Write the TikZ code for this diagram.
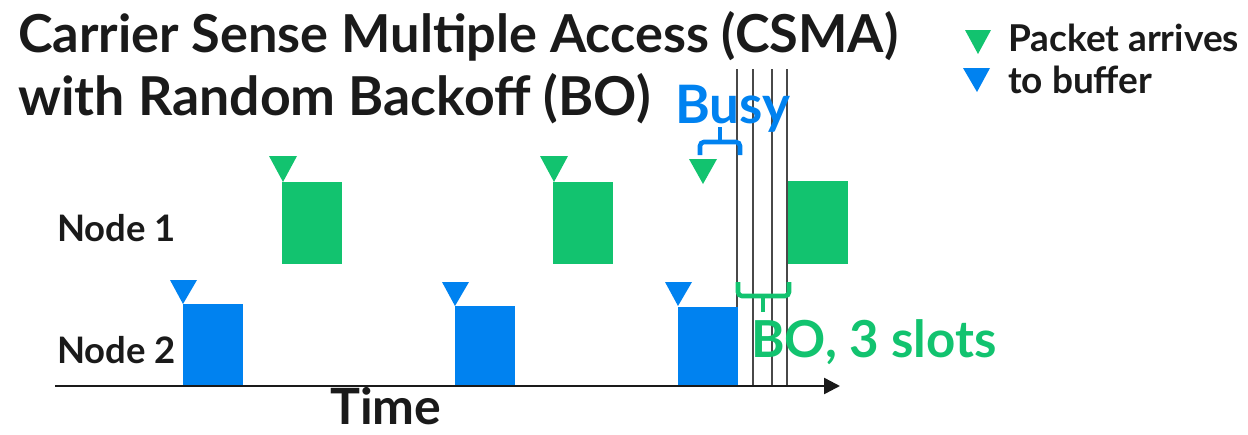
\documentclass[tikz,border=0pt]{standalone}
\usepackage{fontspec}
\setmainfont{Lato}
\usetikzlibrary{arrows.meta}
\definecolor{egreen}{HTML}{12C36F}
\definecolor{eblue}{HTML}{0082F0}
\definecolor{etext}{HTML}{1A1A1A}
\tikzset{
  gbox/.style={fill=egreen,draw=none,minimum width=60pt,minimum height=82pt,inner sep=0pt,anchor=north west},
  bbox/.style={fill=eblue,draw=none,minimum width=60pt,minimum height=80pt,inner sep=0pt,anchor=north west},
  lbl/.style={inner sep=0pt,anchor=base west,text=etext},
  slot/.style={draw=etext!80,line width=1.3pt},
  brace/.style={line width=4.6pt,rounded corners=4pt,line cap=butt}
}
\begin{document}
\begin{tikzpicture}[x=1pt,y=-1pt]
\useasboundingbox (0,0) rectangle (1248,434);
% title
\node[lbl,font=\fontsize{52.3}{58}\selectfont\bfseries] (t1) at (18,52) {Carrier Sense Multiple Access (CSMA)};
\node[lbl,font=\fontsize{53.6}{58}\selectfont\bfseries] (t2) at (18,115) {with Random Backoff (BO)};
% legend
\fill[egreen] (965,30) -- (991,30) -- (978,54) -- cycle;
\fill[eblue] (963,68) -- (990,68) -- (977,92) -- cycle;
\node[lbl,font=\fontsize{37}{40}\selectfont\bfseries] (l1) at (1008,51) {Packet arrives};
\node[lbl,font=\fontsize{37}{40}\selectfont\bfseries] (l2) at (1008,93) {to buffer};
% node labels
\node[lbl,font=\fontsize{36.5}{40}\selectfont\bfseries] (n1) at (57,241) {Node 1};
\node[lbl,font=\fontsize{36.5}{40}\selectfont\bfseries] (n2) at (57,363) {Node 2};
% slot lines
\foreach \x [count=\i] in {737,753,772,787}{
  \coordinate (s\i t) at (\x,69);
  \coordinate (s\i b) at (\x,386);
  \draw[slot] (s\i t) -- (s\i b);
}
% node 1 packets
\node[gbox] (g1) at (282,182) {};
\node[gbox] (g2) at (553,182) {};
\node[gbox,minimum height=83pt] (g3) at (788,181) {};
\fill[egreen] (269,156) -- (297,156) -- (283,182) -- cycle;
\fill[egreen] (540,156) -- (568,156) -- (554,182) -- cycle;
\fill[egreen] (689,159) -- (717,159) -- (703,184) -- cycle;
% node 2 packets
\node[bbox,minimum height=82pt] (b1) at (183,304) {};
\node[bbox] (b2) at (455,306) {};
\node[bbox,minimum height=79pt] (b3) at (678,307) {};
\fill[eblue] (170,280) -- (197,280) -- (183,304) -- cycle;
\fill[eblue] (442,282) -- (469,282) -- (455,306) -- cycle;
\fill[eblue] (665,282) -- (692,282) -- (678,306) -- cycle;
% axis
\coordinate (a0) at (55,386);
\coordinate (a1) at (840,386);
\draw[etext,line width=2.5pt,-{Triangle[length=16pt,width=16pt]}] (a0) -- (a1);
\node[lbl,font=\fontsize{50}{54}\selectfont\bfseries] (time) at (330,424) {Time};
% busy brace
\draw[brace,eblue] (700,155) -- (700,142) -- (740,142) -- (740,155);
\draw[brace,eblue] (720,142) -- (720,127);
\node[lbl,font=\fontsize{53}{56}\selectfont\bfseries,text=eblue] (busy) at (675,123) {Busy};
% BO brace
\draw[brace,egreen] (738,282) -- (738,296) -- (789,296) -- (789,282);
\draw[brace,egreen] (763,296) -- (763,312);
\node[lbl,font=\fontsize{51}{54}\selectfont\bfseries,text=egreen] (bo) at (751,357) {BO, 3 slots};
\end{tikzpicture}
\end{document}
